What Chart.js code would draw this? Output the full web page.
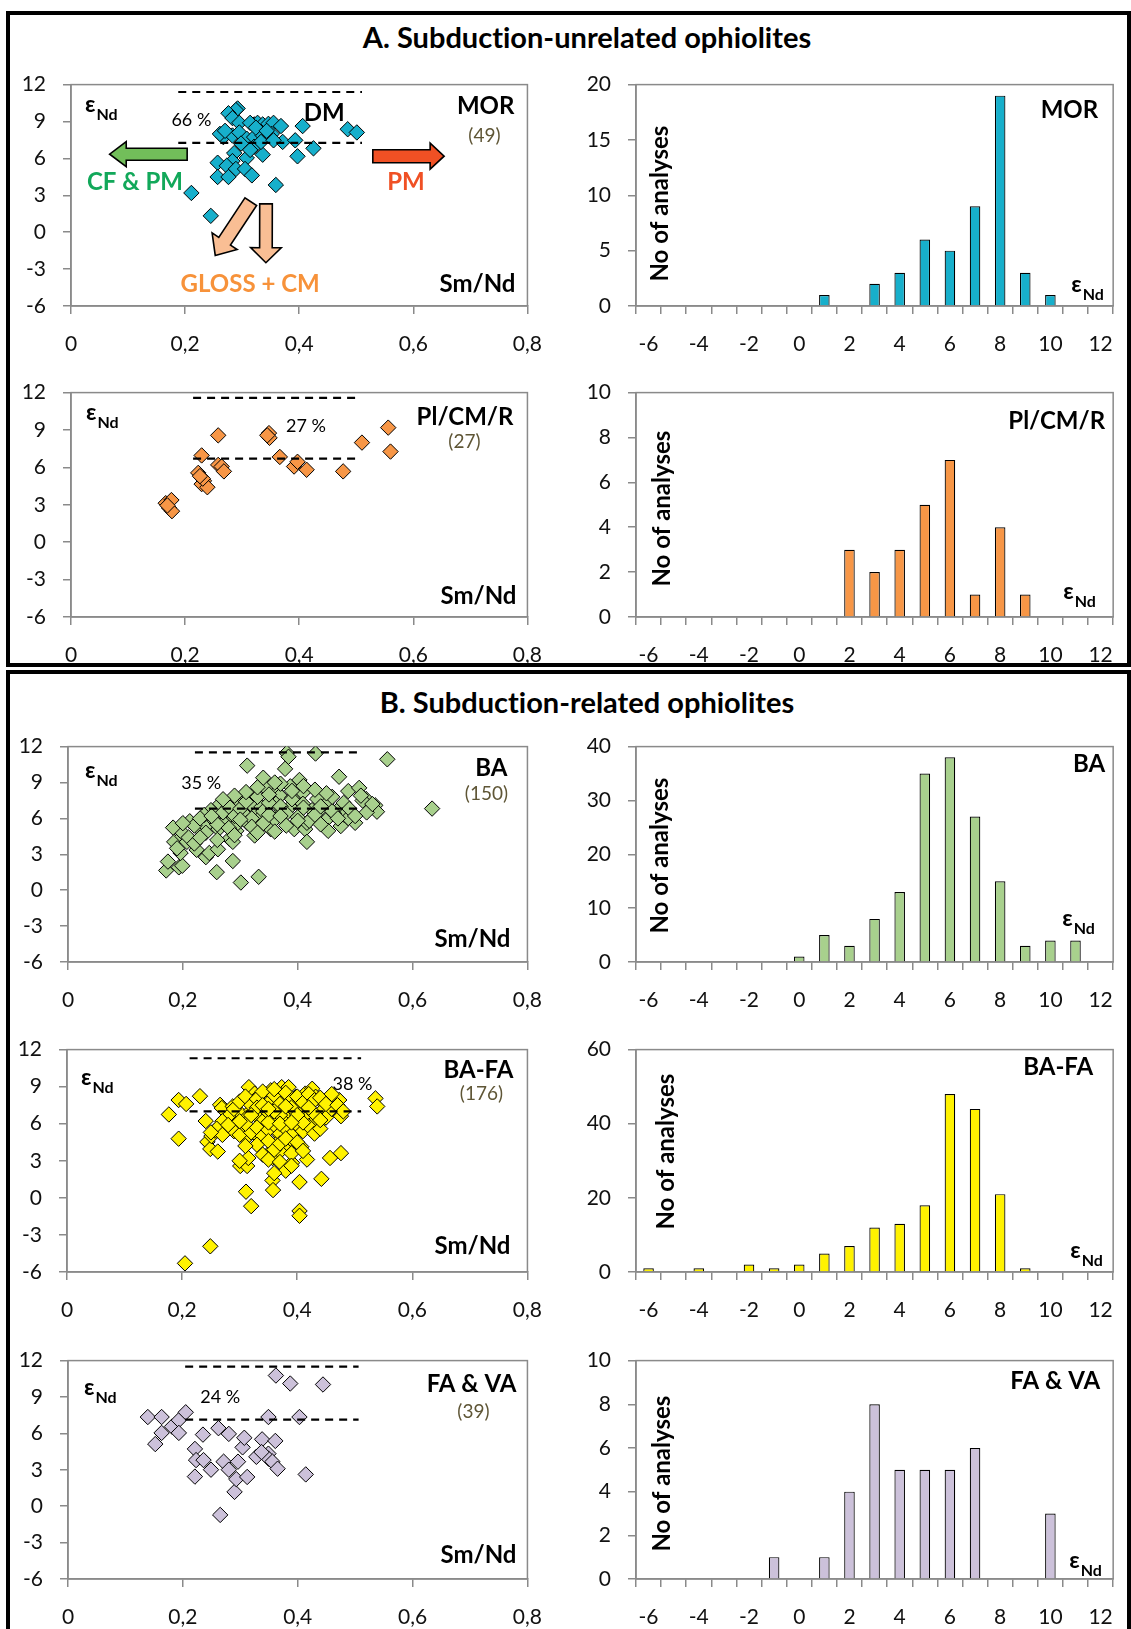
<!DOCTYPE html>
<html>
<head>
<meta charset="utf-8">
<script src="https://cdn.jsdelivr.net/npm/chart.js@4.4.0/dist/chart.umd.min.js"></script>
<style>
  body { margin: 0; background: #fff; width: 1131px; height: 1629px; position: relative; overflow: hidden; font-family: Lato, 'Open Sans', sans-serif; font-variant-ligatures: none; }
  canvas { position: absolute; }
  .box { position: absolute; border: 4px solid #000; box-sizing: border-box; z-index: 2; }
  .ttl { position: absolute; left: 0; width: 1174px; text-align: center; font-weight: bold; font-size: 29px; line-height: 32px; }
</style>
</head>
<body>
<div class="box" style="left:6px;top:11px;width:1125px;height:656px"></div>
<div class="box" style="left:6px;top:670px;width:1125px;height:1000px"></div>
<div class="ttl" style="top:21px">A. Subduction-unrelated ophiolites</div>
<div class="ttl" style="top:686px">B. Subduction-related ophiolites</div>

<script>
// tick labels
var smNdTicks = ['0', '0,2', '0,4', '0,6', '0,8'];
var epsTicks = ['-6', '-3', '0', '3', '6', '9', '12'];
var histBins = ['-6','-5','-4','-3','-2','-1','0','1','2','3','4','5','6','7','8','9','10','11','12'];

// number of analyses per eNd bin
var morCounts  = [0,0,0,0,0,0,0,1,0,2,3,6,5,9,19,3,1,0,0];
var plCounts   = [0,0,0,0,0,0,0,0,3,2,3,5,7,1,4,1,0,0,0];
var baCounts   = [0,0,0,0,0,0,1,5,3,8,13,35,38,27,15,3,4,4,0];
var bafaCounts = [1,0,1,0,2,1,2,5,7,12,13,18,48,44,21,1,0,0,0];
var favaCounts = [0,0,0,0,0,1,0,1,4,8,5,5,5,6,0,0,3,0,0];

// Sm/Nd vs eNd
var morPoints = [
  [0.292,10.06],[0.289,9.93],[0.276,9.67],[0.283,9.28],[0.295,8.89],[0.321,8.76],[0.327,8.89],
  [0.336,8.76],[0.346,8.81],[0.355,8.89],[0.368,8.63],[0.406,8.63],[0.485,8.37],[0.501,8.11],
  [0.267,7.73],[0.283,7.86],[0.295,8.11],[0.308,7.60],[0.321,7.73],[0.336,7.86],[0.352,7.99],
  [0.371,7.34],[0.393,7.47],[0.425,6.82],[0.397,6.17],[0.286,6.43],[0.308,6.04],[0.336,6.30],
  [0.283,5.78],[0.257,5.65],[0.273,5.40],[0.289,5.14],[0.305,5.14],[0.257,4.49],[0.276,4.49],
  [0.317,4.62],[0.359,3.84],[0.211,3.19],[0.245,1.33],
  [0.314,8.89],[0.324,8.50],[0.343,8.24],[0.298,7.21],[0.321,6.95],[0.333,7.34],[0.261,7.99],
  [0.355,7.47],[0.270,8.24],[0.314,6.69]
];
var plPoints = [
  [0.166,3.13],[0.176,3.38],[0.172,2.74],[0.177,2.49],[0.169,2.95],[0.229,6.96],[0.223,5.56],
  [0.233,4.92],[0.229,4.66],[0.239,4.41],[0.231,5.10],[0.258,8.57],[0.258,6.20],[0.264,6.07],
  [0.268,5.68],[0.347,8.75],[0.348,8.37],[0.366,6.84],[0.391,6.07],[0.397,6.45],[0.413,5.81],
  [0.477,5.68],[0.510,7.99],[0.556,9.19],[0.560,7.27],[0.344,8.57],[0.226,5.30]
];
var baPoints = [
  [0.171,1.65],[0.174,2.39],[0.193,1.91],[0.199,2.04],[0.185,4.04],[0.199,4.51],[0.196,4.96],
  [0.183,5.23],[0.207,4.04],[0.196,3.11],[0.212,5.76],[0.224,3.37],[0.240,2.76],[0.246,3.11],
  [0.261,3.42],[0.259,1.51],[0.287,2.44],[0.301,0.64],[0.332,1.12],[0.229,5.10],[0.240,5.36],
  [0.262,5.10],[0.249,6.69],[0.265,7.22],[0.274,6.29],[0.281,4.30],[0.287,4.04],[0.293,4.96],
  [0.283,5.76],[0.296,5.63],[0.312,10.41],[0.312,7.75],[0.318,7.22],[0.325,6.29],[0.331,5.36],
  [0.325,4.57],[0.340,9.08],[0.337,6.96],[0.346,5.63],[0.353,5.10],[0.350,8.55],[0.359,8.81],
  [0.362,8.28],[0.369,7.89],[0.375,6.56],[0.378,10.14],[0.381,11.47],[0.384,11.15],[0.387,8.68],
  [0.391,7.75],[0.394,5.10],[0.403,9.21],[0.409,8.15],[0.409,7.22],[0.413,5.10],[0.416,5.63],
  [0.416,4.04],[0.431,11.42],[0.434,7.62],[0.438,6.69],[0.450,7.22],[0.453,6.03],[0.453,4.96],
  [0.472,9.48],[0.475,6.96],[0.475,5.36],[0.481,6.29],[0.488,8.28],[0.500,5.63],[0.507,8.55],
  [0.519,7.62],[0.535,7.09],[0.538,6.56],[0.556,10.94],[0.634,6.82],[0.237,6.29],[0.256,5.76],
  [0.300,7.09],[0.306,6.42],[0.362,6.16],[0.337,6.16],[0.344,8.55],[0.325,8.02],[0.293,6.96],
  [0.271,5.63],[0.312,5.63],[0.362,7.22],[0.387,6.96],[0.425,6.69],[0.463,6.42],[0.513,7.49],
  [0.488,6.03],
  [0.27,6.5],[0.28,7.0],[0.29,6.2],[0.30,6.8],[0.31,7.4],[0.32,6.0],[0.33,7.8],[0.34,6.6],
  [0.35,7.3],[0.36,5.9],[0.37,7.0],[0.38,6.4],[0.39,7.6],[0.40,6.1],[0.41,6.9],[0.42,5.8],
  [0.43,6.3],[0.44,7.0],[0.46,6.6],[0.48,7.3],[0.26,5.5],[0.28,5.2],[0.30,5.9],[0.32,5.3],
  [0.34,5.6],[0.36,4.9],[0.38,5.4],[0.40,5.8],[0.33,4.8],[0.29,4.6],[0.31,8.2],[0.33,8.6],
  [0.35,8.0],[0.37,8.9],[0.39,8.3],[0.41,8.7],[0.34,9.4],[0.36,9.0],[0.29,7.9],[0.27,7.6],
  [0.22,5.4],[0.23,6.0],[0.24,4.8],[0.21,4.4],[0.25,6.2],[0.22,3.9],[0.20,5.6],[0.23,4.4],
  [0.26,4.2],[0.19,3.5],[0.44,5.5],[0.46,7.8],[0.47,6.0],[0.49,6.8],[0.51,7.9],[0.52,6.5],
  [0.45,8.1],[0.43,8.4],[0.50,6.2],[0.53,7.2],[0.35,6.3],[0.37,6.2]
];
var bafaPoints = [
  [0.177,6.75],[0.194,7.92],[0.207,7.60],[0.194,4.79],[0.231,8.23],[0.241,6.22],[0.244,4.53],
  [0.249,3.96],[0.262,3.75],[0.251,5.00],[0.257,5.44],[0.266,7.53],[0.269,7.27],[0.273,5.37],
  [0.283,5.83],[0.298,6.61],[0.301,5.70],[0.301,2.58],[0.313,2.58],[0.315,3.23],[0.311,0.50],
  [0.320,-0.67],[0.310,4.79],[0.316,8.96],[0.326,8.44],[0.329,7.66],[0.333,4.92],[0.338,7.01],
  [0.345,7.40],[0.351,3.62],[0.357,3.23],[0.357,1.41],[0.358,0.63],[0.354,8.70],[0.360,8.18],
  [0.363,6.09],[0.370,5.05],[0.367,4.53],[0.373,8.96],[0.376,7.92],[0.382,4.14],[0.385,8.96],
  [0.388,7.01],[0.391,2.84],[0.395,5.57],[0.398,8.18],[0.407,4.14],[0.404,1.28],[0.404,-1.06],
  [0.404,-1.45],[0.410,6.48],[0.414,8.44],[0.417,3.10],[0.423,7.66],[0.426,8.83],[0.426,5.44],
  [0.432,8.18],[0.439,6.09],[0.442,1.54],[0.448,7.53],[0.454,6.88],[0.457,3.23],[0.473,7.92],
  [0.476,6.61],[0.476,3.62],[0.536,8.05],[0.539,7.40],[0.205,-5.30],[0.249,-3.92],[0.326,7.92],
  [0.338,5.57],[0.382,7.14],[0.370,3.75],[0.351,5.70],[0.388,4.79],[0.294,5.96],[0.288,7.40],
  [0.357,7.40],[0.401,7.27],[0.426,6.88],
  [0.30,6.9],[0.31,6.4],[0.32,7.1],[0.33,6.6],[0.34,6.2],[0.35,6.9],[0.36,6.5],[0.37,7.2],
  [0.38,6.3],[0.39,6.8],[0.40,6.4],[0.41,7.0],[0.42,6.6],[0.43,6.2],[0.44,6.9],[0.45,6.5],
  [0.46,7.2],[0.28,6.6],[0.27,6.2],[0.29,7.2],
  [0.30,7.8],[0.31,8.2],[0.32,7.5],[0.33,8.0],[0.34,8.6],[0.35,7.7],[0.36,8.3],[0.37,7.6],
  [0.38,8.5],[0.39,7.9],[0.40,8.2],[0.41,7.7],[0.42,8.4],[0.43,7.9],[0.44,8.1],[0.45,7.6],
  [0.47,7.5],[0.48,7.0],[0.46,8.4],[0.36,8.8],
  [0.29,5.4],[0.30,5.1],[0.31,5.8],[0.32,5.3],[0.33,5.7],[0.34,5.0],[0.35,5.5],[0.36,5.9],
  [0.37,5.2],[0.38,5.6],[0.39,5.1],[0.40,5.9],[0.41,5.4],[0.42,5.8],[0.43,5.2],[0.44,5.6],
  [0.26,5.6],[0.27,5.1],[0.25,5.3],[0.28,5.9],
  [0.33,4.3],[0.35,4.6],[0.36,3.9],[0.37,4.4],[0.38,4.8],[0.39,3.6],[0.40,4.5],[0.41,3.8],
  [0.34,3.5],[0.31,4.2],[0.35,3.1],[0.37,2.9],[0.38,2.2],[0.39,2.6],[0.36,2.0],[0.30,3.0],
  [0.31,6.0],[0.33,7.3],[0.35,6.1],[0.37,6.7],[0.39,7.3],[0.41,6.1],[0.43,6.8],[0.34,7.5],
  [0.36,7.0],[0.38,7.4],[0.40,6.7],[0.42,7.3],[0.44,6.3],[0.32,6.7],[0.30,6.2],[0.35,7.2],
  [0.37,6.0],[0.39,6.1]
];
var favaPoints = [
  [0.139,7.35],[0.152,5.12],[0.163,7.35],[0.163,6.04],[0.181,6.56],[0.193,7.09],[0.193,6.04],
  [0.205,7.74],[0.221,4.72],[0.223,3.80],[0.221,2.44],[0.235,5.90],[0.236,3.80],[0.249,3.01],
  [0.262,6.43],[0.265,-0.72],[0.271,3.67],[0.280,5.96],[0.280,3.01],[0.290,1.18],[0.293,2.23],
  [0.296,3.67],[0.304,4.85],[0.307,5.64],[0.312,2.41],[0.328,4.07],[0.338,5.51],[0.349,7.35],
  [0.349,4.33],[0.349,3.93],[0.356,3.67],[0.361,5.38],[0.362,10.77],[0.365,3.09],[0.387,10.11],
  [0.403,7.35],[0.414,2.62],[0.444,10.03],[0.337,4.46]
];

// DM band limits: [Sm/Nd from, Sm/Nd to, eNd]
var morBand  = [[0.188,0.510,11.40],[0.188,0.510,7.26]];
var plBand   = [[0.214,0.508,11.57],[0.214,0.508,6.71]];
var baBand   = [[0.221,0.510,11.52],[0.221,0.510,6.82]];
var bafaBand = [[0.213,0.511,11.30],[0.213,0.511,7.00]];
var favaBand = [[0.204,0.506,11.50],[0.204,0.506,7.14]];

var FONT = "Lato, 'Open Sans', sans-serif";
var AXIS = '#8a8a8a';
var NOTE = '#5f5636';
Chart.defaults.font.family = FONT;
Chart.defaults.color = '#111';

function at(chart, p) {
  var a = chart.chartArea, s = chart.scales;
  var x = p.x !== undefined ? s.x.getPixelForValue(p.x) : (p.l !== undefined ? a.left + p.l : a.right - p.r);
  var y = p.y !== undefined ? s.y.getPixelForValue(p.y) : (p.t !== undefined ? a.top + p.t : a.bottom - p.b);
  return [x, y];
}

function arrow(ctx, chart, d) {
  var p0 = at(chart, d.from), p1 = at(chart, d.to);
  var dx = p1[0] - p0[0], dy = p1[1] - p0[1], L = Math.sqrt(dx * dx + dy * dy);
  var ux = dx / L, uy = dy / L, nx = -uy, ny = ux;
  var bx = p1[0] - ux * d.len, by = p1[1] - uy * d.len;
  ctx.beginPath();
  ctx.moveTo(p0[0] + nx * d.body, p0[1] + ny * d.body);
  ctx.lineTo(bx + nx * d.body, by + ny * d.body);
  ctx.lineTo(bx + nx * d.head, by + ny * d.head);
  ctx.lineTo(p1[0], p1[1]);
  ctx.lineTo(bx - nx * d.head, by - ny * d.head);
  ctx.lineTo(bx - nx * d.body, by - ny * d.body);
  ctx.lineTo(p0[0] - nx * d.body, p0[1] - ny * d.body);
  ctx.closePath();
  ctx.fillStyle = d.fill;
  ctx.fill();
  ctx.lineWidth = 1.6;
  ctx.strokeStyle = '#000';
  ctx.stroke();
}

// plot frame, labels and arrows drawn inside each panel
var decor = {
  id: 'decor',
  beforeDatasetsDraw: function (chart) {
    var a = chart.chartArea, ctx = chart.ctx;
    ctx.save();
    ctx.strokeStyle = AXIS;
    ctx.lineWidth = 1.5;
    ctx.strokeRect(a.left, a.top, a.right - a.left, a.bottom - a.top);
    ctx.restore();
  },
  afterDatasetsDraw: function (chart, args, o) {
    var ctx = chart.ctx;
    ctx.save();
    (o.arrows || []).forEach(function (d) { arrow(ctx, chart, d); });
    (o.texts || []).forEach(function (t) {
      var p = at(chart, t);
      if (t.eps) {
        ctx.fillStyle = '#000';
        ctx.textAlign = 'left';
        ctx.textBaseline = 'alphabetic';
        ctx.font = 'bold 23px ' + FONT;
        ctx.fillText('\u03b5', p[0], p[1]);
        var w = ctx.measureText('\u03b5').width;
        ctx.font = 'bold 16px ' + FONT;
        ctx.fillText('Nd', p[0] + w + 1, p[1] + 8);
        return;
      }
      ctx.fillStyle = t.color || '#000';
      ctx.font = (t.bold ? 'bold ' : '') + (t.size || 24) + 'px ' + FONT;
      ctx.textBaseline = 'middle';
      if (t.rot) {
        ctx.save();
        ctx.translate(p[0], p[1]);
        ctx.rotate(-Math.PI / 2);
        ctx.textAlign = 'center';
        ctx.fillText(t.text, 0, 0);
        ctx.restore();
        return;
      }
      ctx.textAlign = t.align || 'center';
      ctx.fillText(t.text, p[0], p[1]);
    });
    ctx.restore();
  }
};

function makeCanvas(left, top, w, h) {
  var c = document.createElement('canvas');
  c.width = w; c.height = h;
  c.style.left = left + 'px'; c.style.top = top + 'px';
  c.style.width = w + 'px'; c.style.height = h + 'px';
  document.body.appendChild(c);
  return c;
}

function axisGrid() {
  return { drawOnChartArea: false, drawTicks: true, tickLength: 8, color: AXIS, lineWidth: 1.5 };
}

var rows = [
  { top: 75,   bottom: 306,  sL: 71, sR: 539 },
  { top: 383,  bottom: 617,  sL: 71, sR: 538 },
  { top: 737,  bottom: 962,  sL: 68, sR: 539 },
  { top: 1040, bottom: 1272, sL: 67, sR: 539 },
  { top: 1351, bottom: 1579, sL: 68, sR: 539 }
];
var HL = 636, HR = 1123;

function scatterPanel(row, points, band, color, deco) {
  var h = row.bottom - row.top;
  var c = makeCanvas(0, row.top - 20, 560, h + 72);
  var sets = band.map(function (b) {
    return {
      type: 'line', data: [{ x: b[0], y: b[2] }, { x: b[1], y: b[2] }],
      borderColor: '#000', borderWidth: 2.2, borderDash: [8, 6], pointRadius: 0, order: 0
    };
  });
  sets.push({
    data: points.map(function (p) { return { x: p[0], y: p[1] }; }),
    pointStyle: 'rectRot', pointRadius: 7.7, backgroundColor: color,
    borderColor: '#000', borderWidth: 1, order: 1
  });
  return new Chart(c, {
    type: 'scatter',
    data: { datasets: sets },
    options: {
      responsive: false, animation: false, events: [],
      layout: { padding: { top: 20, left: 0, right: 560 - row.sR, bottom: 0 } },
      plugins: { legend: { display: false }, tooltip: { enabled: false }, decor: deco },
      scales: {
        x: {
          type: 'linear', min: 0, max: 0.8,
          ticks: { stepSize: 0.2, padding: 18, maxRotation: 0, autoSkip: false,
                   font: { size: 21 }, callback: function (v, i) { return smNdTicks[i]; } },
          grid: axisGrid(), border: { color: AXIS, width: 1.5 },
          afterFit: function (s) { s.height = 52; }
        },
        y: {
          min: -6, max: 12,
          ticks: { stepSize: 3, padding: 17, font: { size: 21 },
                   callback: function (v, i) { return epsTicks[i]; } },
          grid: axisGrid(), border: { color: AXIS, width: 1.5 },
          afterFit: function (s) { s.width = row.sL; }
        }
      }
    },
    plugins: [decor]
  });
}

function histPanel(row, counts, color, yMax, yStep, deco) {
  var h = row.bottom - row.top;
  var c = makeCanvas(560, row.top - 20, 571, h + 72);
  return new Chart(c, {
    type: 'bar',
    data: {
      labels: histBins,
      datasets: [{
        data: counts.map(function (n) { return n || null; }),
        backgroundColor: color, borderColor: '#000', borderWidth: 1.2,
        barPercentage: 0.42, categoryPercentage: 1
      }]
    },
    options: {
      responsive: false, animation: false, events: [],
      layout: { padding: { top: 20, left: 0, right: 571 - (HR - 560), bottom: 0 } },
      plugins: { legend: { display: false }, tooltip: { enabled: false }, decor: deco },
      scales: {
        x: {
          ticks: { padding: 18, maxRotation: 0, autoSkip: false, font: { size: 21 },
                   callback: function (v, i) { return i % 2 === 0 ? histBins[i] : ''; } },
          grid: Object.assign(axisGrid(), { offset: true }), border: { color: AXIS, width: 1.5 },
          afterFit: function (s) { s.height = 52; }
        },
        y: {
          min: 0, max: yMax,
          ticks: { stepSize: yStep, padding: 17, font: { size: 21 } },
          grid: axisGrid(), border: { color: AXIS, width: 1.5 },
          afterFit: function (s) { s.width = HL - 560; }
        }
      }
    },
    plugins: [decor]
  });
}

function noA(l, t) { return { text: 'No of analyses', l: l, t: t, rot: true, bold: true, size: 24 }; }

// A. subduction-unrelated
scatterPanel(rows[0], morPoints, morBand, '#17afcb', {
  texts: [
    { eps: true, l: 14, t: 27 },
    { text: 'MOR', r: 13, t: 22, align: 'right', bold: true },
    { text: '(49)', r: 43, t: 51, color: NOTE, size: 19 },
    { text: 'Sm/Nd', r: 12, b: 22, align: 'right', bold: true },
    { text: '66 %', x: 0.211, y: 9.08, size: 18 },
    { text: 'DM', x: 0.444, y: 9.67, bold: true },
    { text: 'CF & PM', x: 0.112, y: 4.09, bold: true, color: '#12a85a' },
    { text: 'PM', x: 0.587, y: 4.09, bold: true, color: '#f05024' },
    { text: 'GLOSS + CM', x: 0.314, y: -4.21, bold: true, color: '#f7923a' }
  ],
  arrows: [
    { from: { x: 0.2036, y: 6.34 }, to: { x: 0.0677, y: 6.34 }, body: 6, head: 12.5, len: 16.6, fill: '#72be5a' },
    { from: { x: 0.529, y: 6.18 }, to: { x: 0.654, y: 6.18 }, body: 6.5, head: 13, len: 14, fill: '#f05024' },
    { from: { x: 0.3418, y: 2.30 }, to: { x: 0.3416, y: -2.48 }, body: 6.3, head: 15.3, len: 15, fill: '#f9be94' },
    { from: { x: 0.3151, y: 2.48 }, to: { x: 0.2528, y: -1.887 }, body: 7, head: 15, len: 17, fill: '#f9be94' }
  ]
});
histPanel(rows[0], morCounts, '#17afcb', 20, 5, {
  texts: [ { text: 'MOR', r: 15, t: 26, align: 'right', bold: true }, { eps: true, r: 42, b: 14 }, noA(24, 119) ]
});

scatterPanel(rows[1], plPoints, plBand, '#f79646', {
  texts: [
    { eps: true, l: 15, t: 27 },
    { text: 'Pl/CM/R', r: 14, t: 25, align: 'right', bold: true },
    { text: '(27)', r: 63, t: 49, color: NOTE, size: 19 },
    { text: 'Sm/Nd', r: 11, b: 21, align: 'right', bold: true },
    { text: '27 %', x: 0.412, y: 9.31, size: 18 }
  ]
});
histPanel(rows[1], plCounts, '#f79646', 10, 2, {
  texts: [ { text: 'Pl/CM/R', r: 8, t: 29, align: 'right', bold: true }, { eps: true, r: 50, b: 18 }, noA(26, 116) ]
});

// B. subduction-related
scatterPanel(rows[2], baPoints, baBand, '#a8d08d', {
  texts: [
    { eps: true, l: 17, t: 31 },
    { text: 'BA', r: 20, t: 22, align: 'right', bold: true },
    { text: '(150)', r: 41, t: 47, color: NOTE, size: 19 },
    { text: 'Sm/Nd', r: 17, b: 23, align: 'right', bold: true },
    { text: '35 %', x: 0.232, y: 8.96, size: 18 }
  ]
});
histPanel(rows[2], baCounts, '#a8d08d', 40, 10, {
  texts: [ { text: 'BA', r: 8, t: 18, align: 'right', bold: true }, { eps: true, r: 51, b: 36 }, noA(24, 109) ]
});

scatterPanel(rows[3], bafaPoints, bafaBand, '#fff200', {
  texts: [
    { eps: true, l: 14, t: 35 },
    { text: 'BA-FA', r: 14, t: 21, align: 'right', bold: true },
    { text: '(176)', r: 46, t: 44, color: NOTE, size: 19 },
    { text: 'Sm/Nd', r: 17, b: 26, align: 'right', bold: true },
    { text: '38 %', x: 0.496, y: 9.21, size: 18 }
  ]
});
histPanel(rows[3], bafaCounts, '#fff200', 60, 20, {
  texts: [ { text: 'BA-FA', r: 20, t: 18, align: 'right', bold: true }, { eps: true, r: 43, b: 14 }, noA(30, 102) ]
});

scatterPanel(rows[4], favaPoints, favaBand, '#ccc1da', {
  texts: [
    { eps: true, l: 16, t: 34 },
    { text: 'FA & VA', r: 11, t: 24, align: 'right', bold: true },
    { text: '(39)', r: 54, t: 51, color: NOTE, size: 19 },
    { text: 'Sm/Nd', r: 11, b: 24, align: 'right', bold: true },
    { text: '24 %', x: 0.265, y: 9.0, size: 18 }
  ]
});
histPanel(rows[4], favaCounts, '#ccc1da', 10, 2, {
  texts: [ { text: 'FA & VA', r: 13, t: 21, align: 'right', bold: true }, { eps: true, r: 44, b: 11 }, noA(26, 113) ]
});
</script>
</body>
</html>
